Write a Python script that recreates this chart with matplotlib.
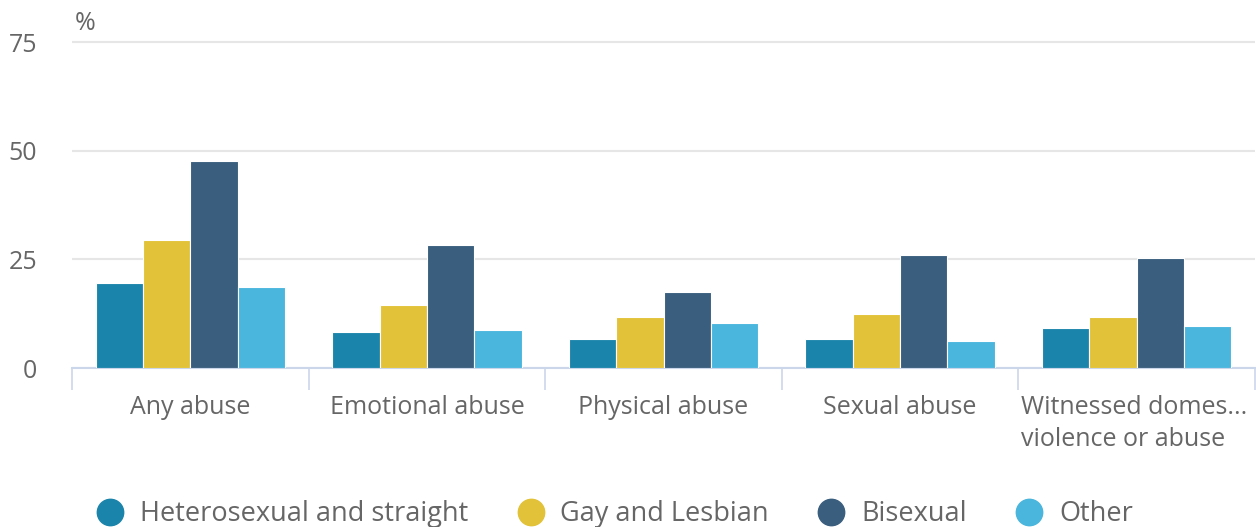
import numpy as np
import matplotlib.pyplot as plt
from matplotlib.lines import Line2D

plt.rcParams["font.family"] = ["Open Sans", "DejaVu Sans"]

categories = ["Any abuse", "Emotional abuse", "Physical abuse", "Sexual abuse",
              "Witnessed domes...\nviolence or abuse"]
series = ["Heterosexual and straight", "Gay and Lesbian", "Bisexual", "Other"]
hetero = [19.6, 8.2, 6.7, 6.7, 9.2]
gay = [29.5, 14.4, 11.8, 12.4, 11.8]
bisexual = [47.6, 28.4, 17.6, 25.9, 25.4]
other = [18.6, 8.8, 10.3, 6.2, 9.7]
colors = ["#1b84ab", "#e2c238", "#3a5e7e", "#4ab5dd"]
grey = "#666666"

fig = plt.figure(figsize=(12.56, 5.27), dpi=100)
ax = fig.add_axes([72 / 1256, 1 - 368 / 527, (1255 - 72) / 1256, (368 - 40) / 527])

x = np.arange(len(categories))
w = 0.8 / 4
for i, vals in enumerate([hetero, gay, bisexual, other]):
    ax.bar(x + (i - 1.5) * w, vals, w, color=colors[i], edgecolor="white",
           linewidth=0.8, zorder=3)

ax.set_xlim(-0.5, len(categories) - 0.5)
ax.set_ylim(0, 75.5)
ax.set_yticks([0, 25, 50, 75])
ax.grid(axis="y", color="#e6e6e6", linewidth=1.5, zorder=0)
for s in ["top", "right", "left"]:
    ax.spines[s].set_visible(False)
ax.spines["bottom"].set_color("#ccd6eb")
ax.spines["bottom"].set_linewidth(1.5)

ax.set_xticks(x)
ax.set_xticklabels([])
ax.tick_params(axis="x", length=0)
ax.set_xticks(np.arange(len(categories) + 1) - 0.5, minor=True)
ax.tick_params(axis="x", which="minor", length=16, color="#ccd6eb", width=1.2)

# category labels, the long one wraps and starts at the tick
per_px = 75.5 / 328
for i, c in enumerate(categories):
    ha, xp = "center", i
    if "\n" in c:
        ha, xp = "left", i - 0.49
    ax.text(xp, -27 * per_px, c, ha=ha, va="top", fontsize=18, color=grey,
            linespacing=1.38, clip_on=False)

ax.tick_params(axis="y", length=0, labelsize=18, labelcolor=grey, pad=25)
fig.text(75 / 1256, 1 - 24 / 527, "%", fontsize=18, color=grey,
         va="center", ha="left")

handles = [Line2D([], [], marker="o", linestyle="", markersize=19,
                  markerfacecolor=c, markeredgecolor=c) for c in colors]
fig.legend(handles, series, loc="center", bbox_to_anchor=(0.4895, 1 - 514 / 527),
           ncol=4, frameon=False, fontsize=19.5, labelcolor=grey,
           handletextpad=0.6, columnspacing=1.8, handlelength=1.0)

fig.savefig("out.png", dpi=100)
